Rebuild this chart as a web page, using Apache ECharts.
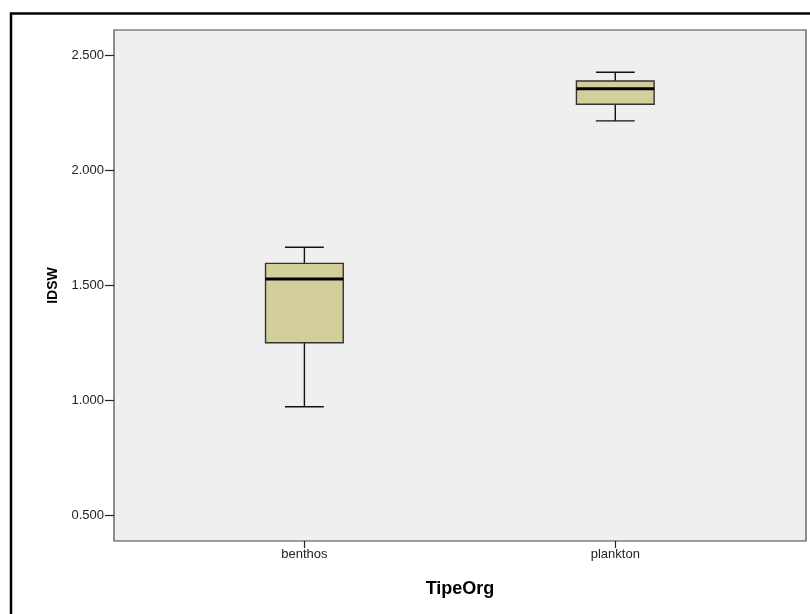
<!DOCTYPE html>
<html>
<head>
<meta charset="utf-8">
<script src="https://cdn.jsdelivr.net/npm/echarts@6/dist/echarts.min.js"></script>
<style>
html,body{margin:0;padding:0;background:#fff;}
#c{width:810px;height:614px;}
</style>
</head>
<body>
<div id="c"></div>
<script>
const categories = ['benthos', 'plankton'];
const whiskerLow = [0.971, 2.214];
const q1 = [1.249, 2.286];
const median = [1.526, 2.354];
const q3 = [1.594, 2.387];
const whiskerHigh = [1.664, 2.425];
const yTicks = [0.5, 1.0, 1.5, 2.0, 2.5];
const xTitle = 'TipeOrg';
const yTitle = 'IDSW';

const data = categories.map((c, i) => [i, whiskerLow[i], q1[i], median[i], q3[i], whiskerHigh[i]]);

const chart = echarts.init(document.getElementById('c'));
const font = '"Liberation Sans", Arial, sans-serif';

chart.setOption({
  animation: false,
  backgroundColor: '#ffffff',
  graphic: [{
    type: 'rect',
    shape: { x: 11, y: 13.5, width: 840, height: 640 },
    style: { fill: 'none', stroke: '#000', lineWidth: 2.5 },
    z: 100
  }],
  grid: {
    left: 114, top: 30, right: 4, bottom: 73,
    show: true, backgroundColor: '#efefef', borderColor: '#444', borderWidth: 1.2
  },
  xAxis: {
    type: 'value',
    min: -0.6124, max: 1.6134,
    splitLine: { show: false },
    axisLine: { show: false, onZero: false },
    axisTick: { show: true, customValues: [0, 1], length: 7, lineStyle: { color: '#222', width: 1.2 } },
    axisLabel: {
      customValues: [0, 1],
      formatter: v => categories[Math.round(v)],
      color: '#222', fontSize: 13, fontFamily: font, margin: 7
    },
    name: xTitle, nameLocation: 'middle', nameGap: 39,
    nameTextStyle: { fontWeight: 'bold', fontSize: 18, color: '#000', fontFamily: font }
  },
  yAxis: {
    type: 'value',
    position: 'left',
    min: 0.387, max: 2.609,
    splitLine: { show: false },
    axisLine: { show: false, onZero: false },
    axisTick: { show: true, customValues: yTicks, length: 9, lineStyle: { color: '#222', width: 1.2 } },
    axisLabel: {
      customValues: yTicks,
      formatter: v => v.toFixed(3),
      color: '#222', fontSize: 13, fontFamily: font, margin: 10
    },
    name: yTitle, nameLocation: 'middle', nameGap: 53, nameRotate: 90,
    nameTextStyle: { fontWeight: 'bold', fontSize: 14, color: '#000', fontFamily: font }
  },
  series: [{
    type: 'custom',
    data: data,
    encode: { x: 0, y: [1, 2, 3, 4, 5] },
    clip: false,
    renderItem: function (params, api) {
      const x = api.value(0);
      const pLow = api.coord([x, api.value(1)]);
      const pQ1 = api.coord([x, api.value(2)]);
      const pMed = api.coord([x, api.value(3)]);
      const pQ3 = api.coord([x, api.value(4)]);
      const pHigh = api.coord([x, api.value(5)]);
      const unit = api.size([1, 0])[0];
      const bw = unit * 0.25;
      const cw = bw / 2;
      const cx = pQ1[0];
      const ws = { stroke: '#111', lineWidth: 1.4 };
      return {
        type: 'group',
        children: [
          { type: 'line', shape: { x1: cx, y1: pHigh[1], x2: cx, y2: pQ3[1] }, style: ws },
          { type: 'line', shape: { x1: cx, y1: pQ1[1], x2: cx, y2: pLow[1] }, style: ws },
          { type: 'line', shape: { x1: cx - cw / 2, y1: pHigh[1], x2: cx + cw / 2, y2: pHigh[1] }, style: ws },
          { type: 'line', shape: { x1: cx - cw / 2, y1: pLow[1], x2: cx + cw / 2, y2: pLow[1] }, style: ws },
          { type: 'rect', shape: { x: cx - bw / 2, y: pQ3[1], width: bw, height: pQ1[1] - pQ3[1] },
            style: { fill: '#d4cf9a', stroke: '#333', lineWidth: 1.4 } },
          { type: 'line', shape: { x1: cx - bw / 2, y1: pMed[1], x2: cx + bw / 2, y2: pMed[1] },
            style: { stroke: '#000', lineWidth: 3 } }
        ]
      };
    }
  }]
});
</script>
</body>
</html>
